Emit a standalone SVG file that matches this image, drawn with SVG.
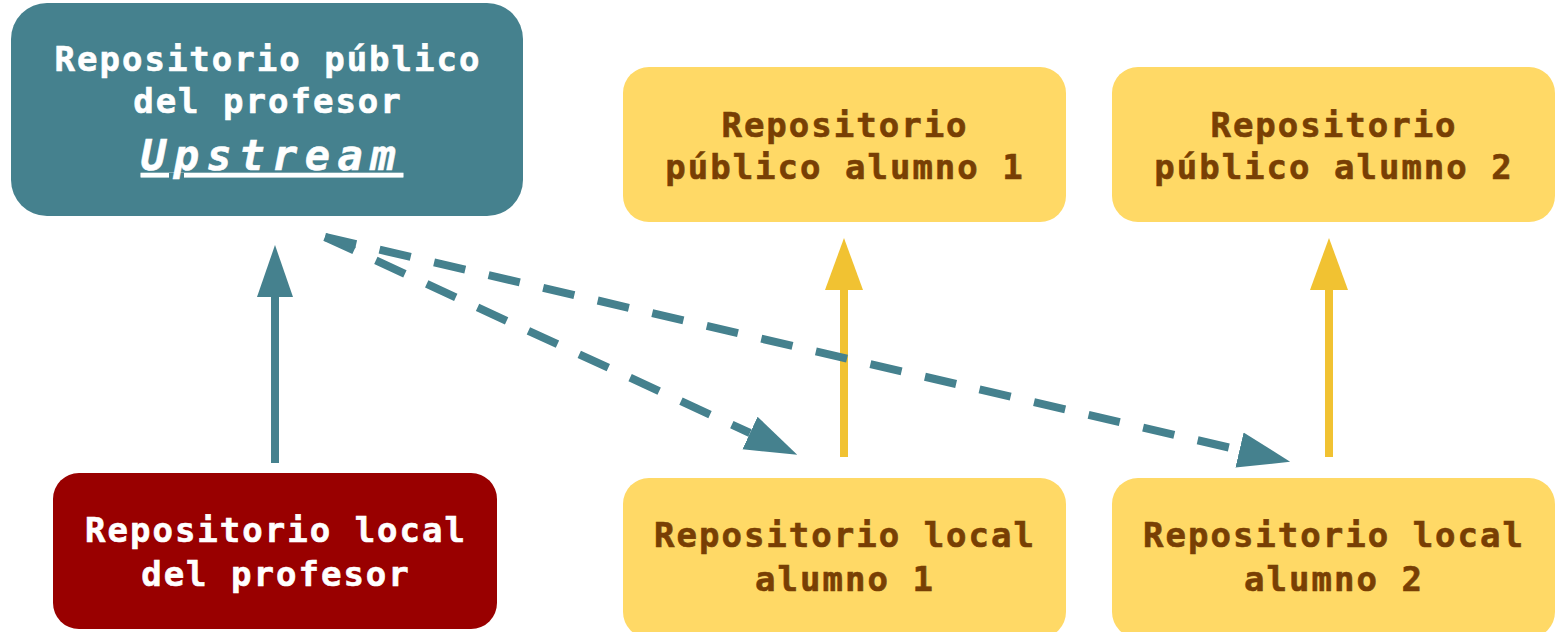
<svg xmlns="http://www.w3.org/2000/svg" width="1555" height="632" viewBox="0 0 1555 632">
<style>
.t{font-family:"DejaVu Sans Mono","Liberation Mono",monospace;font-weight:bold;font-size:34px;letter-spacing:2px;text-anchor:middle;stroke-width:0.6px}
.w{fill:#ffffff;stroke:#ffffff}
.b{fill:#783F04;stroke:#783F04}
.y{fill:#FFD966}
.up{font-size:42px;font-style:italic;letter-spacing:7.5px;text-decoration:underline}
.teal{stroke:#45818E;stroke-width:8;fill:none}
.gold{stroke:#F1C232;stroke-width:8;fill:none}
.dash{stroke-dasharray:32 24}
</style>
<defs>
<marker id="ah-teal" markerUnits="userSpaceOnUse" markerWidth="53" markerHeight="38" refX="0" refY="19" orient="auto" viewBox="0 0 53 38">
<path d="M0,1 L52,19 L0,37 Z" fill="#45818E"/>
</marker>
<marker id="ah-gold" markerUnits="userSpaceOnUse" markerWidth="53" markerHeight="38" refX="0" refY="19" orient="auto" viewBox="0 0 53 38">
<path d="M0,0 L52,19 L0,38 Z" fill="#F1C232"/>
</marker>
</defs>
<g id="upstream">
<rect x="11" y="3" width="512" height="213" rx="36" fill="#45818E"/>
<text class="t w" x="268" y="71">Repositorio público</text>
<text class="t w" x="268" y="113">del profesor</text>
<text class="t w up" x="272" y="170">Upstream</text>
</g>
<g id="pub1">
<rect class="y" x="623" y="67" width="443" height="155" rx="26"/>
<text class="t b" x="845" y="137">Repositorio</text>
<text class="t b" x="845" y="179">público alumno 1</text>
</g>
<g id="pub2">
<rect class="y" x="1112" y="67" width="443" height="155" rx="26"/>
<text class="t b" x="1334" y="137">Repositorio</text>
<text class="t b" x="1334" y="179">público alumno 2</text>
</g>
<g id="localprof">
<rect x="53" y="473" width="444" height="156" rx="26" fill="#990000"/>
<text class="t w" x="276" y="542">Repositorio local</text>
<text class="t w" x="276" y="586">del profesor</text>
</g>
<g id="local1">
<rect class="y" x="623" y="478" width="443" height="160" rx="26"/>
<text class="t b" x="845" y="547">Repositorio local</text>
<text class="t b" x="845" y="591">alumno 1</text>
</g>
<g id="local2">
<rect class="y" x="1112" y="478" width="443" height="160" rx="26"/>
<text class="t b" x="1334" y="547">Repositorio local</text>
<text class="t b" x="1334" y="591">alumno 2</text>
</g>
<g id="connectors">
<line class="teal" x1="275" y1="463" x2="275" y2="297" marker-end="url(#ah-teal)"/>
<line class="gold" x1="844" y1="457" x2="844" y2="290" marker-end="url(#ah-gold)"/>
<line class="gold" x1="1329" y1="457" x2="1329" y2="290" marker-end="url(#ah-gold)"/>
<line class="teal dash" x1="325" y1="237" x2="750" y2="433" marker-end="url(#ah-teal)"/>
<line class="teal dash" x1="325" y1="237" x2="1239.5" y2="450" marker-end="url(#ah-teal)"/>
</g>
</svg>
